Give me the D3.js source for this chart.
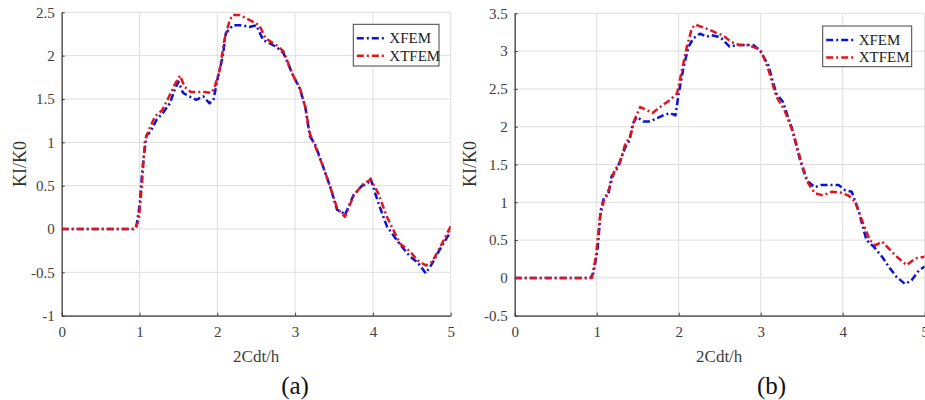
<!DOCTYPE html>
<html>
<head>
<meta charset="utf-8">
<script src="https://cdn.jsdelivr.net/npm/d3@7"></script>
<style>
  html, body { margin: 0; padding: 0; background: #fff; }
  svg { display: block; }
  text { font-family: "Liberation Serif", "Times New Roman", serif; }
</style>
</head>
<body>
<svg id="chart" width="925" height="400" font-family="Liberation Serif, serif"></svg>
<script>
// Normalised stress intensity factor KI/K0 versus dimensionless time 2Cdt/h
const xTicks = [0, 1, 2, 3, 4, 5];
const yTicksA = [-1, -0.5, 0, 0.5, 1, 1.5, 2, 2.5];
const yTicksB = [-0.5, 0, 0.5, 1, 1.5, 2, 2.5, 3, 3.5];
const seriesNames = ["XFEM", "XTFEM"];
const panelLabels = ["(a)", "(b)"];

// Panel (a)
const xfemA = [[0,0],[0.92,0],[0.96,0.03],[1.0,0.26],[1.04,0.72],[1.09,1.08],[1.14,1.12],[1.22,1.26],[1.31,1.35],[1.39,1.45],[1.45,1.6],[1.5,1.7],[1.56,1.57],[1.64,1.53],[1.73,1.49],[1.82,1.53],[1.9,1.45],[1.95,1.49],[2.01,1.76],[2.07,1.99],[2.11,2.26],[2.2,2.35],[2.33,2.35],[2.41,2.33],[2.5,2.35],[2.59,2.18],[2.76,2.1],[2.85,2.03],[2.98,1.76],[3.06,1.62],[3.13,1.41],[3.19,1.07],[3.26,0.97],[3.36,0.72],[3.45,0.49],[3.54,0.22],[3.6,0.2],[3.64,0.16],[3.75,0.39],[3.86,0.5],[3.93,0.52],[3.97,0.58],[4.07,0.3],[4.18,0.03],[4.35,-0.18],[4.48,-0.32],[4.57,-0.38],[4.68,-0.51],[4.76,-0.4],[4.87,-0.22],[5.0,-0.03]];
const xtfemA = [[0,0],[0.94,0],[0.99,0.1],[1.03,0.49],[1.07,1.03],[1.12,1.14],[1.2,1.3],[1.29,1.37],[1.37,1.51],[1.45,1.66],[1.52,1.77],[1.58,1.64],[1.66,1.58],[1.75,1.58],[1.83,1.58],[1.92,1.57],[1.96,1.62],[2.03,1.83],[2.09,2.18],[2.16,2.41],[2.2,2.47],[2.28,2.47],[2.37,2.43],[2.46,2.39],[2.54,2.35],[2.62,2.2],[2.76,2.12],[2.85,2.05],[2.98,1.76],[3.06,1.63],[3.13,1.41],[3.19,1.1],[3.26,0.95],[3.36,0.72],[3.45,0.49],[3.54,0.24],[3.64,0.14],[3.75,0.38],[3.86,0.51],[3.97,0.57],[4.07,0.41],[4.18,0.14],[4.35,-0.17],[4.48,-0.26],[4.57,-0.36],[4.68,-0.42],[4.76,-0.38],[4.87,-0.2],[5.0,0.03]];

// Panel (b)
const xfemB = [[0,0],[0.92,0],[0.96,0.06],[1.01,0.37],[1.05,0.9],[1.09,1.07],[1.14,1.09],[1.18,1.34],[1.24,1.43],[1.29,1.56],[1.35,1.73],[1.4,1.82],[1.44,2.04],[1.49,2.13],[1.54,2.09],[1.57,2.07],[1.65,2.07],[1.73,2.11],[1.81,2.15],[1.89,2.18],[1.96,2.15],[2.0,2.44],[2.06,2.79],[2.12,3.06],[2.18,3.17],[2.26,3.23],[2.34,3.19],[2.4,3.21],[2.48,3.19],[2.52,3.17],[2.62,3.06],[2.72,3.08],[2.8,3.08],[2.91,3.08],[2.99,3.01],[3.09,2.82],[3.19,2.44],[3.27,2.33],[3.38,1.98],[3.48,1.56],[3.56,1.29],[3.66,1.2],[3.74,1.23],[3.84,1.23],[3.95,1.23],[4.03,1.16],[4.11,1.14],[4.19,0.9],[4.29,0.5],[4.38,0.41],[4.48,0.28],[4.56,0.15],[4.66,0.01],[4.76,-0.08],[4.84,-0.03],[4.93,0.1],[5.0,0.15]];
const xtfemB = [[0,0],[0.94,0],[0.99,0.28],[1.04,0.81],[1.09,1.03],[1.16,1.2],[1.22,1.43],[1.28,1.51],[1.35,1.78],[1.41,1.87],[1.46,2.09],[1.53,2.26],[1.61,2.22],[1.68,2.18],[1.75,2.24],[1.81,2.29],[1.89,2.35],[1.98,2.44],[2.04,2.75],[2.1,3.06],[2.16,3.3],[2.2,3.35],[2.28,3.32],[2.38,3.28],[2.48,3.23],[2.54,3.21],[2.64,3.12],[2.74,3.08],[2.84,3.08],[2.95,3.04],[3.01,2.99],[3.09,2.77],[3.19,2.4],[3.29,2.22],[3.4,1.91],[3.5,1.51],[3.58,1.25],[3.66,1.12],[3.76,1.09],[3.87,1.14],[3.97,1.13],[4.07,1.09],[4.15,1.01],[4.25,0.72],[4.33,0.5],[4.4,0.43],[4.48,0.48],[4.56,0.39],[4.66,0.28],[4.78,0.17],[4.89,0.26],[5.0,0.28]];

const colors = ["#0b12d6", "#e0161c"];
const dash = "7,3,2,3";
const serif = "'Liberation Serif', 'Times New Roman', serif";

const panels = [
  { left: 61.7, right: 450.7, top: 12.3, bottom: 315.7, yDomain: [-1, 2.5], yTicks: yTicksA,
    series: [xfemA, xtfemA], label: panelLabels[0], labelX: 295, ylabX: 20,
    legend: { x: 353.3, y: 24.3, w: 85.7, h: 41.7 } },
  { left: 514.7, right: 924.7, top: 13.3, bottom: 315.7, yDomain: [-0.5, 3.5], yTicks: yTicksB,
    series: [xfemB, xtfemB], label: panelLabels[1], labelX: 771.5, ylabX: 470,
    legend: { x: 822.7, y: 26, w: 89, h: 40.7 } }
];

const svg = d3.select("#chart");
const fmt = d => String(d);

panels.forEach((p, i) => {
  const x = d3.scaleLinear().domain([0, 5]).range([p.left, p.right]);
  const y = d3.scaleLinear().domain(p.yDomain).range([p.bottom, p.top]);
  const g = svg.append("g");

  // grid
  g.append("g").selectAll("line").data(xTicks).join("line")
    .attr("x1", d => x(d)).attr("x2", d => x(d))
    .attr("y1", p.top).attr("y2", p.bottom)
    .attr("stroke", "#dedede").attr("stroke-width", 1);
  g.append("g").selectAll("line").data(p.yTicks).join("line")
    .attr("x1", p.left).attr("x2", p.right)
    .attr("y1", d => y(d)).attr("y2", d => y(d))
    .attr("stroke", "#dedede").attr("stroke-width", 1);

  // axes
  const xAxis = d3.axisBottom(x).tickValues(xTicks).tickFormat(fmt).tickSizeInner(-3).tickSizeOuter(0).tickPadding(11);
  const yAxis = d3.axisLeft(y).tickValues(p.yTicks).tickFormat(fmt).tickSizeInner(-3).tickSizeOuter(0).tickPadding(7);
  const gx = g.append("g").attr("transform", `translate(0,${p.bottom})`).call(xAxis);
  const gy = g.append("g").attr("transform", `translate(${p.left},0)`).call(yAxis);
  [gx, gy].forEach(a => {
    a.attr("font-family", serif);
    a.select(".domain").attr("stroke", "#3a3a3a").attr("stroke-width", 1.2);
    a.selectAll(".tick line").attr("stroke", "#3a3a3a");
    a.selectAll(".tick text").attr("fill", "#404040").style("font-size", "15px")
      .style("font-family", serif);
  });

  // curves
  const clipId = "clip" + i;
  svg.append("clipPath").attr("id", clipId).append("rect")
    .attr("x", p.left).attr("y", p.top - 4).attr("width", p.right - p.left).attr("height", p.bottom - p.top + 8);
  const line = d3.line().x(d => x(d[0])).y(d => y(d[1]));
  const cg = g.append("g").attr("clip-path", `url(#${clipId})`);
  p.series.forEach((s, k) => {
    cg.append("path").datum(s).attr("d", line)
      .attr("fill", "none").attr("stroke", colors[k]).attr("stroke-width", 2.5)
      .attr("stroke-dasharray", dash).attr("stroke-linejoin", "round");
  });

  // axis titles
  g.append("text").attr("x", (p.left + p.right) / 2 + (i === 0 ? 0 : -0.5)).attr("y", 362)
    .attr("text-anchor", "middle").attr("fill", "#404040").style("font-size", "17px")
    .style("font-family", serif).text("2Cdt/h");
  g.append("text").attr("transform", `translate(${p.ylabX + 6},${164}) rotate(-90)`)
    .attr("text-anchor", "middle").attr("fill", "#303030").style("font-size", "18px")
    .style("font-family", serif).text("KI/K0");
  g.append("text").attr("x", p.labelX).attr("y", 394).attr("text-anchor", "middle")
    .attr("fill", "#111").style("font-size", "25px").style("font-family", serif).text(p.label);

  // legend
  const L = p.legend;
  const lg = g.append("g");
  lg.append("rect").attr("x", L.x).attr("y", L.y).attr("width", L.w).attr("height", L.h)
    .attr("fill", "#fff").attr("stroke", "#444").attr("stroke-width", 1);
  seriesNames.forEach((name, k) => {
    const cy = L.y + 14 + k * 17.4;
    lg.append("line").attr("x1", L.x + 3.5).attr("x2", L.x + 33.5).attr("y1", cy).attr("y2", cy)
      .attr("stroke", colors[k]).attr("stroke-width", 2.5).attr("stroke-dasharray", dash);
    lg.append("text").attr("x", L.x + 36).attr("y", cy + 5).attr("fill", "#222")
      .style("font-size", "15px").style("font-family", serif).text(name);
  });
});
</script>
</body>
</html>
